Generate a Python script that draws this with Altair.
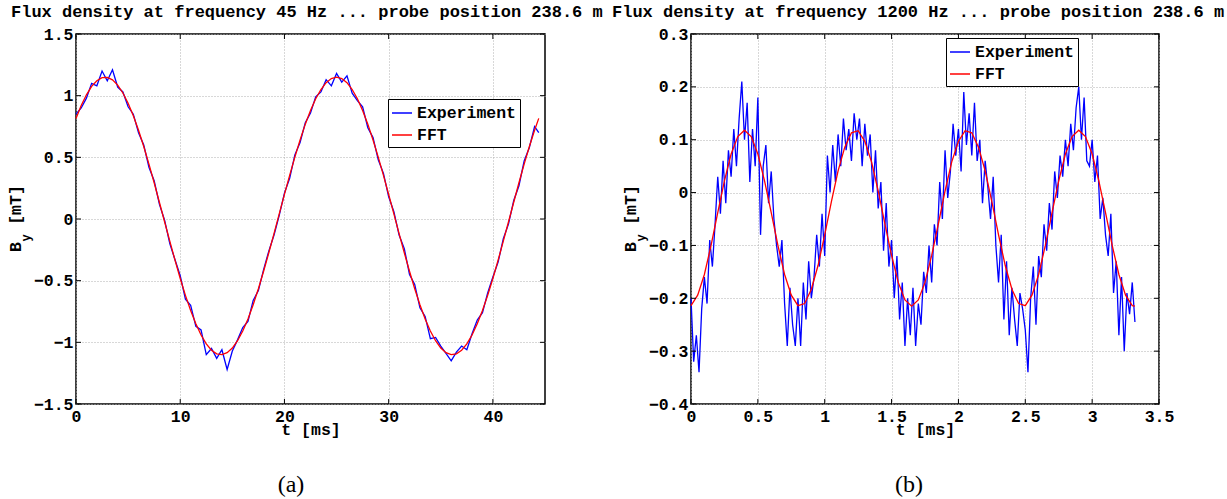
import altair as alt
import pandas as pd

MONO = "Liberation Mono"
SERIF = "Liberation Serif"
FS = 16.5

# ---------------- panel (a): 45 Hz ----------------
A_EXP_STEP = 0.5
A_EXP = [0.85, 0.90, 0.98, 1.10, 1.08, 1.20, 1.12, 1.21, 1.07, 1.03,
         0.91, 0.85, 0.70, 0.60, 0.42, 0.31, 0.12, -0.01, -0.20, -0.33,
         -0.46, -0.65, -0.70, -0.87, -0.90, -1.10, -1.05, -1.13, -1.06, -1.22,
         -1.07, -0.98, -0.88, -0.83, -0.66, -0.58, -0.41, -0.26, -0.13, 0.03,
         0.21, 0.33, 0.52, 0.62, 0.78, 0.86, 0.99, 1.03, 1.13, 1.08,
         1.18, 1.11, 1.16, 1.02, 0.96, 0.91, 0.74, 0.66, 0.48, 0.37,
         0.18, 0.06, -0.13, -0.24, -0.45, -0.53, -0.72, -0.79, -0.97, -0.96,
         -1.03, -1.09, -1.15, -1.08, -1.03, -1.06, -0.93, -0.82, -0.76, -0.60,
         -0.47, -0.35, -0.16, -0.04, 0.15, 0.27, 0.47, 0.58, 0.75]
A_EXP_END = (44.4, 0.70)
A_FFT_STEP = 0.5
A_FFT = [0.815, 0.920, 1.007, 1.075, 1.121, 1.146, 1.148, 1.128, 1.086, 1.022,
         0.939, 0.837, 0.719, 0.588, 0.445, 0.294, 0.136, -0.022, -0.180, -0.334,
         -0.482, -0.619, -0.742, -0.850, -0.941, -1.013, -1.064, -1.093, -1.100, -1.084,
         -1.046, -0.987, -0.908, -0.810, -0.695, -0.565, -0.424, -0.274, -0.118, 0.041,
         0.199, 0.354, 0.502, 0.641, 0.769, 0.880, 0.975, 1.050, 1.105, 1.139,
         1.150, 1.139, 1.105, 1.050, 0.975, 0.880, 0.769, 0.641, 0.502, 0.354,
         0.199, 0.041, -0.118, -0.274, -0.424, -0.565, -0.695, -0.810, -0.908, -0.987,
         -1.046, -1.084, -1.100, -1.093, -1.064, -1.013, -0.941, -0.850, -0.742, -0.619,
         -0.482, -0.334, -0.180, -0.022, 0.136, 0.294, 0.445, 0.588, 0.719]
A_FFT_END = (44.4, 0.816)
A_XDOM = [0, 45]
A_YDOM = [-1.5, 1.5]
A_XTICKS = [0, 10, 20, 30, 40]
A_YTICKS = [-1.5, -1, -0.5, 0, 0.5, 1, 1.5]
A_TITLE = "Flux density at frequency 45 Hz ... probe position 238.6 mm"

# ---------------- panel (b): 1200 Hz ----------------
B_EXP_STEP = 0.02
B_EXP = [-0.20, -0.32, -0.27, -0.34, -0.22, -0.16, -0.21, -0.09, -0.14, -0.06,
         0.03, -0.04, 0.06, -0.02, 0.08, 0.03, 0.12, 0.05, 0.14, 0.21,
         0.10, 0.17, 0.02, 0.12, 0.05, 0.18, -0.08, 0.05, 0.09, -0.02,
         0.04, -0.05, -0.10, -0.14, -0.09, -0.21, -0.29, -0.18, -0.25, -0.29,
         -0.20, -0.29, -0.17, -0.24, -0.13, -0.20, -0.16, -0.08, -0.14, -0.04,
         -0.12, 0.07, 0.00, 0.09, 0.02, 0.11, 0.05, 0.14, 0.08, 0.12,
         0.06, 0.15, 0.10, 0.14, 0.05, 0.13, 0.07, 0.11, 0.00, 0.08,
         -0.03, 0.02, -0.11, -0.02, -0.14, -0.09, -0.20, -0.12, -0.24, -0.17,
         -0.29, -0.20, -0.27, -0.18, -0.29, -0.21, -0.25, -0.15, -0.19, -0.10,
         -0.17, -0.06, -0.10, 0.02, -0.05, 0.08, -0.01, 0.04, 0.13, 0.07,
         0.12, 0.04, 0.19, 0.09, 0.15, 0.07, 0.17, 0.06, 0.10, -0.02,
         0.06, 0.01, -0.05, 0.03, -0.10, -0.17, -0.08, -0.24, -0.13, -0.27,
         -0.18, -0.24, -0.29, -0.19, -0.22, -0.26, -0.34, -0.20, -0.14, -0.25,
         -0.12, -0.16, -0.06, -0.11, -0.02, -0.07, 0.04, -0.01, 0.07, 0.03,
         0.10, 0.05, 0.13, 0.08, 0.16, 0.20, 0.10, 0.18, 0.06, 0.05,
         0.10, 0.02, 0.07, -0.05, -0.01, -0.08, -0.12, -0.04, -0.19, -0.13,
         -0.27, -0.16, -0.30, -0.19, -0.23, -0.17, -0.245]
B_FFT_STEP = 0.05
B_FFT = [-0.214, -0.194, -0.155, -0.100, -0.038, 0.022, 0.073, 0.106, 0.118, 0.106,
         0.073, 0.022, -0.038, -0.100, -0.155, -0.194, -0.214, -0.210, -0.183, -0.138,
         -0.080, -0.017, 0.041, 0.086, 0.113, 0.117, 0.097, 0.058, 0.003, -0.059,
         -0.119, -0.170, -0.203, -0.215, -0.203, -0.170, -0.119, -0.059, 0.003, 0.058,
         0.097, 0.117, 0.113, 0.086, 0.041, -0.017, -0.080, -0.138, -0.183, -0.210,
         -0.214, -0.194, -0.155, -0.100, -0.038, 0.022, 0.073, 0.106, 0.118, 0.106,
         0.073, 0.022, -0.038, -0.100, -0.155, -0.194, -0.214]
B_FFT_END = (3.32, -0.215)
B_XDOM = [0, 3.5]
B_YDOM = [-0.4, 0.3]
B_XTICKS = [0, 0.5, 1, 1.5, 2, 2.5, 3, 3.5]
B_YTICKS = [-0.4, -0.3, -0.2, -0.1, 0, 0.1, 0.2, 0.3]
B_TITLE = "Flux density at frequency 1200 Hz ... probe position 238.6 mm"

SERIES = ["Experiment", "FFT"]
COLORS = ["#0000ff", "#ff0000"]

W, H = 469, 370


def series_frame(values, step, end, name):
    t = [round(i * step, 4) for i in range(len(values))]
    v = list(values)
    if end is not None:
        t.append(end[0])
        v.append(end[1])
    return pd.DataFrame({"t": t, "v": v, "series": name})


def one_text(txt):
    return alt.Chart(pd.DataFrame({"txt": [txt]}))


def panel(exp_df, fft_df, xdom, ydom, xticks, yticks, title, title_dx, title_limit,
          caption, caption_x, leg_x, leg_y, width):
    color = alt.Color(
        "series:N",
        scale=alt.Scale(domain=SERIES, range=COLORS),
        legend=alt.Legend(orient="none", legendX=leg_x, legendY=leg_y, title=None),
    )
    xenc = alt.X("t:Q", scale=alt.Scale(domain=xdom, nice=False, zero=False),
                 axis=alt.Axis(values=xticks, format="~g", title="t [ms]"))
    yenc = alt.Y("v:Q", scale=alt.Scale(domain=ydom, nice=False, zero=False),
                 axis=alt.Axis(values=yticks, format="~g", title=None,
                               labelPadding=3))
    exp_line = alt.Chart(exp_df).mark_line(strokeWidth=1.3).encode(x=xenc, y=yenc, color=color)
    fft_line = alt.Chart(fft_df).mark_line(strokeWidth=1.3).encode(x="t:Q", y="v:Q", color=color)

    xt = pd.DataFrame({"t": xticks})
    yt = pd.DataFrame({"v": yticks})
    rule = dict(color="black", strokeWidth=1)
    xt_bot = alt.Chart(xt).mark_rule(**rule).encode(x="t:Q", y=alt.value(H), y2=alt.value(H - 5))
    xt_top = alt.Chart(xt).mark_rule(**rule).encode(x="t:Q", y=alt.value(0), y2=alt.value(5))
    yt_l = alt.Chart(yt).mark_rule(**rule).encode(y="v:Q", x=alt.value(0), x2=alt.value(5))
    yt_r = alt.Chart(yt).mark_rule(**rule).encode(y="v:Q", x=alt.value(width), x2=alt.value(width - 5))

    bold = dict(font=MONO, fontWeight="bold", color="black")
    ttl = one_text(title).mark_text(align="left", baseline="middle", fontSize=17,
                                    limit=title_limit, ellipsis="\u200b", **bold).encode(
        text="txt:N", x=alt.value(title_dx), y=alt.value(-22))
    yB = one_text("B").mark_text(angle=270, align="center", baseline="middle",
                                 fontSize=FS, **bold).encode(
        text="txt:N", x=alt.value(-60), y=alt.value(213))
    ysub = one_text("y").mark_text(angle=270, align="center", baseline="middle",
                                   fontSize=12, **bold).encode(
        text="txt:N", x=alt.value(-50), y=alt.value(204))
    yunit = one_text("[mT]").mark_text(angle=270, align="center", baseline="middle",
                                       fontSize=FS, **bold).encode(
        text="txt:N", x=alt.value(-60), y=alt.value(171))
    cap = one_text(caption).mark_text(align="center", baseline="middle", font=SERIF,
                                      fontSize=24, color="black").encode(
        text="txt:N", x=alt.value(caption_x), y=alt.value(451))

    return alt.layer(exp_line, fft_line, xt_bot, xt_top, yt_l, yt_r,
                     ttl, yB, ysub, yunit, cap).properties(width=width, height=H)


left = panel(series_frame(A_EXP, A_EXP_STEP, A_EXP_END, "Experiment"),
             series_frame(A_FFT, A_FFT_STEP, A_FFT_END, "FFT"),
             A_XDOM, A_YDOM, A_XTICKS, A_YTICKS, A_TITLE, -65, 600,
             "(a)", 215, 312, 65, W)
right = panel(series_frame(B_EXP, B_EXP_STEP, None, "Experiment"),
              series_frame(B_FFT, B_FFT_STEP, B_FFT_END, "FFT"),
              B_XDOM, B_YDOM, B_XTICKS, B_YTICKS, B_TITLE, -79, 615,
              "(b)", 218, 255, 4, 468)

chart = (
    alt.hconcat(left, right, spacing=7)
    .resolve_scale(color="independent")
    .resolve_legend(color="independent")
    .properties(padding={"left": 7, "top": 2, "right": 0, "bottom": 0}, background="white")
    .configure_view(stroke="black", strokeWidth=1.5)
    .configure_axis(
        domain=False, ticks=False, grid=True, gridColor="#b0b0b0", gridDash=[1, 2],
        gridWidth=1, labelFont=MONO, labelFontSize=FS, labelFontWeight="bold",
        labelColor="black", labelPadding=4, labelFlush=False, labelOverlap=False,
        titleFont=MONO, titleFontSize=FS, titleFontWeight="bold", titleColor="black",
        titlePadding=-3,
    )
    .configure_legend(
        labelFont=MONO, labelFontSize=FS, labelFontWeight="bold", labelColor="black",
        symbolType="stroke", symbolSize=400, symbolStrokeWidth=1.5,
        strokeColor="black", fillColor="white", padding=3, rowPadding=2,
        labelOffset=4, cornerRadius=0,
    )
)

chart.save("out.html", embed_options={"renderer": "svg", "actions": False})
